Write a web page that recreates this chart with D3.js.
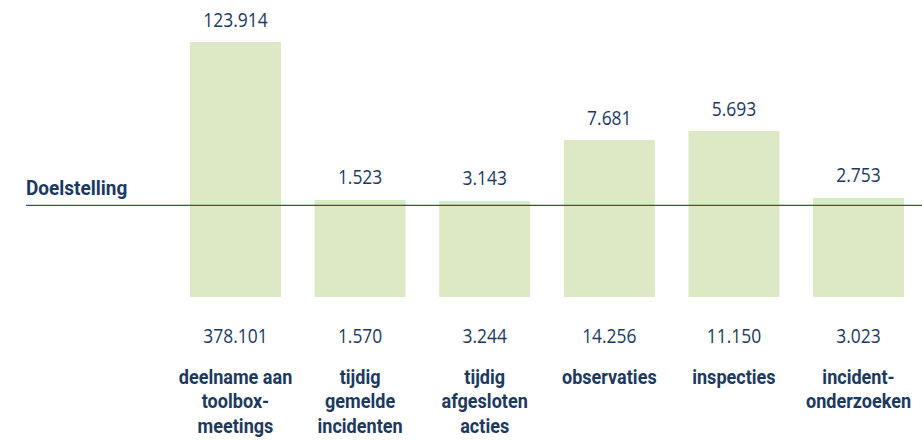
<!DOCTYPE html>
<html>
<head>
<meta charset="utf-8">
<script src="https://cdn.jsdelivr.net/npm/d3@7"></script>
<style>
  html, body { margin: 0; padding: 0; background: #ffffff; }
  svg { display: block; }
  .num { font-family: "Open Sans", sans-serif; font-size: 20.5px; fill: #1c3a5e; }
  .cat { font-family: "Roboto", sans-serif; font-weight: 700; font-size: 21px; fill: #1c3a5e; }
  .goal { font-family: "Roboto", sans-serif; font-weight: 700; font-size: 20px; fill: #1c3a5e; }
</style>
</head>
<body>
<svg id="chart" width="922" height="440"></svg>
<script>
// Indicators, each scored against its target (100 = target reached)
const categories = ["toolbox", "incidenten", "acties", "observaties", "inspecties", "onderzoeken"];
const categoryLines = [
  ["deelname aan", "toolbox-", "meetings"],
  ["tijdig", "gemelde", "incidenten"],
  ["tijdig", "afgesloten", "acties"],
  ["observaties"],
  ["inspecties"],
  ["incident-", "onderzoeken"]
];
const scorePct = [278, 105.8, 104.7, 171.2, 181, 108];
const topLabels = ["123.914", "1.523", "3.143", "7.681", "5.693", "2.753"];
const bottomLabels = ["378.101", "1.570", "3.244", "14.256", "11.150", "3.023"];
const goalValue = 100;
const goalLabel = "Doelstelling";

const svg = d3.select("#chart");

// narrow letterforms: horizontal squeeze per text element
const numSqueeze = 0.85;
const catSqueeze = 0.86;

const x = d3.scaleBand()
  .domain(categories)
  .range([190, 904])
  .paddingInner(0.27)
  .paddingOuter(0);

const y = d3.scaleLinear()
  .domain([0, 100])
  .range([297, 205.3]);

const cx = d => x(d) + x.bandwidth() / 2;

// bars
svg.append("g").selectAll("rect")
  .data(categories)
  .join("rect")
  .attr("x", d => x(d))
  .attr("width", x.bandwidth())
  .attr("y", (d, i) => y(scorePct[i]))
  .attr("height", (d, i) => y(0) - y(scorePct[i]))
  .attr("fill", "#dde8c4");

// target line
svg.append("line")
  .attr("x1", 26).attr("x2", 922)
  .attr("y1", y(goalValue)).attr("y2", y(goalValue))
  .attr("stroke", "#34506f")
  .attr("stroke-width", 1.2);

svg.append("text")
  .attr("class", "goal")
  .attr("transform", `translate(26,${y(goalValue) - 10.3}) scale(0.95,1)`)
  .text(goalLabel);

// value above each bar
svg.append("g").selectAll("text")
  .data(categories)
  .join("text")
  .attr("class", "num")
  .attr("text-anchor", "middle")
  .attr("transform", (d, i) => `translate(${cx(d)},${y(scorePct[i]) - 15.5}) scale(${numSqueeze},1)`)
  .text((d, i) => topLabels[i]);

// value below each bar
svg.append("g").selectAll("text")
  .data(categories)
  .join("text")
  .attr("class", "num")
  .attr("text-anchor", "middle")
  .attr("transform", d => `translate(${cx(d)},342.5) scale(${numSqueeze},1)`)
  .text((d, i) => bottomLabels[i]);

// category names
const catG = svg.append("g").selectAll("text")
  .data(categories)
  .join("text")
  .attr("class", "cat")
  .attr("text-anchor", "middle")
  .attr("transform", d => `translate(${cx(d)},383.5) scale(${catSqueeze},1)`);

catG.selectAll("tspan")
  .data((d, i) => categoryLines[i])
  .join("tspan")
  .attr("x", 0)
  .attr("dy", (d, j) => j === 0 ? 0 : 24.7)
  .text(d => d);
</script>
</body>
</html>
